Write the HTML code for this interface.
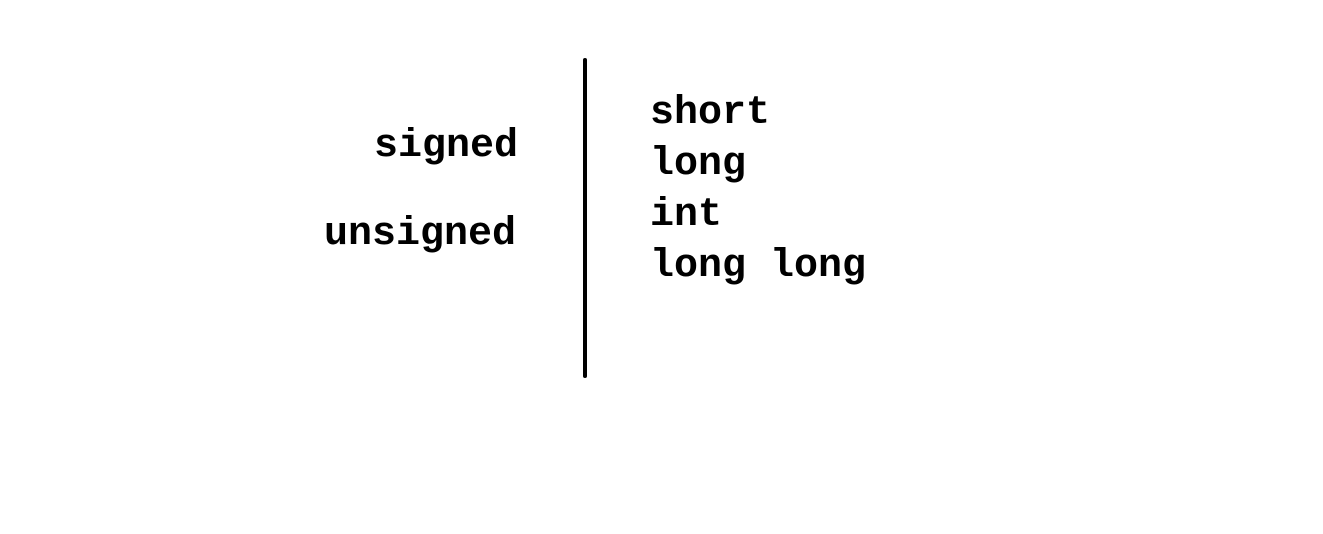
<!DOCTYPE html>
<html><head><meta charset="utf-8"><style>
html,body{margin:0;padding:0;background:#fff;width:1323px;height:534px;overflow:hidden}
text{font-family:"Liberation Mono",monospace;font-weight:bold;font-size:40px;fill:#000}
</style></head><body>
<svg width="1323" height="534">
<text x="374" y="156">signed</text>
<text x="324" y="244">unsigned</text>
<line x1="585" y1="60" x2="585" y2="376" stroke="#000" stroke-width="4" stroke-linecap="round"/>
<text x="650" y="123">short</text>
<text x="650" y="174">long</text>
<text x="650" y="225">int</text>
<text x="650" y="276">long long</text>
</svg>
</body></html>
